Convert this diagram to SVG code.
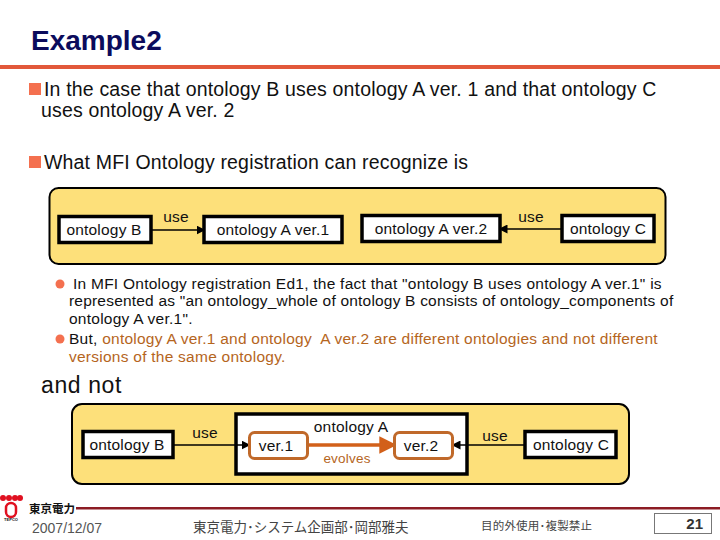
<svg xmlns="http://www.w3.org/2000/svg" width="720" height="540" viewBox="0 0 720 540">
<style>
text{font-family:"Liberation Sans",Arial,sans-serif;fill:#111;white-space:pre}
.b{font-size:19.5px;letter-spacing:.17px}
.s{font-size:15.5px;letter-spacing:.25px}
.n{font-size:15.5px;letter-spacing:.2px;text-anchor:middle}
.o{fill:#b5651d}
.panel{fill:#fde07a;stroke:#000;stroke-width:2}
.box{fill:#fff;stroke:#000;stroke-width:3.5}
.ver{fill:#fff;stroke:#c0692a;stroke-width:3}
.con{fill:none;stroke:#000;stroke-width:1.5}
.cj{font-family:"Noto Sans CJK JP","Liberation Sans",sans-serif;fill:#444}
</style>
<defs>
<marker id="a" markerWidth="6" markerHeight="6" refX="5" refY="3" orient="auto"><path d="M0 0L6 3L0 6z" fill="#000"/></marker>
<marker id="e" markerWidth="5" markerHeight="5" refX="4.2" refY="2.5" orient="auto"><path d="M0 0L5 2.5L0 5z" fill="#d2601a"/></marker>
</defs>
<text x="31" y="50" style="font-size:28px;font-weight:700;fill:#0b0b5c">Example2</text>
<rect x="0" y="65" width="720" height="4" fill="#e2583a"/>
<rect x="29" y="83" width="12" height="12" fill="#f4704f"/>
<text class="b" x="44" y="96">In the case that ontology B uses ontology A ver. 1 and that ontology C</text>
<text class="b" x="41" y="117">uses ontology A ver. 2</text>
<rect x="29" y="156" width="12" height="12" fill="#f4704f"/>
<text class="b" x="44" y="169">What MFI Ontology registration can recognize is</text>

<rect class="panel" x="49.500" y="188" width="616" height="76" rx="9"/>
<g id="connectors-top">
<path class="con" d="M151 230H204" marker-end="url(#a)"/>
<path class="con" d="M562 229H500" marker-end="url(#a)"/>
</g>
<g id="top-b"><rect class="box" x="59" y="216.500" width="92" height="26"/><text class="n" x="104" y="235">ontology B</text></g>
<g id="top-a1"><rect class="box" x="204" y="216.500" width="138" height="26"/><text class="n" x="273" y="235">ontology A ver.1</text></g>
<g id="top-a2"><rect class="box" x="362" y="215.500" width="138" height="26"/><text class="n" x="431" y="234">ontology A ver.2</text></g>
<g id="top-c"><rect class="box" x="562" y="215.500" width="92" height="26"/><text class="n" x="608" y="234">ontology C</text></g>
<text class="n" x="176" y="222">use</text>
<text class="n" x="531" y="222">use</text>

<circle cx="60" cy="284" r="4.500" fill="#f4704f"/>
<text class="s" x="73" y="289">In MFI Ontology registration Ed1, the fact that "ontology B uses ontology A ver.1" is</text>
<text class="s" x="69" y="306" style="letter-spacing:.2px">represented as "an ontology_whole of ontology B consists of ontology_components of</text>
<text class="s" x="69" y="324">ontology A ver.1".</text>
<circle cx="60" cy="339" r="4.500" fill="#f4704f"/>
<text class="s" x="69" y="344">But, <tspan class="o">ontology A ver.1 and ontology  A ver.2 are different ontologies and not different</tspan></text>
<text class="s o" x="69" y="362">versions of the same ontology.</text>
<text x="41" y="393" style="font-size:23px;letter-spacing:.6px">and not</text>

<rect class="panel" x="72" y="404" width="557" height="80" rx="10"/>
<rect class="box" x="236" y="414" width="231" height="60" fill="#fff"/>
<g id="connectors-bottom">
<path class="con" d="M173 445H249" marker-end="url(#a)"/>
<path class="con" d="M524 445H453" marker-end="url(#a)"/>
<path d="M308 445H394" fill="none" stroke="#d2601a" stroke-width="3.5" marker-end="url(#e)"/>
</g>
<g id="bot-b"><rect class="box" x="83" y="431.500" width="90" height="26"/><text class="n" x="127" y="450">ontology B</text></g>
<g id="bot-v1"><rect class="ver" x="249.500" y="432.500" width="58" height="26" rx="5"/><text class="n" x="276" y="451">ver.1</text></g>
<g id="bot-v2"><rect class="ver" x="394.500" y="432.500" width="58" height="26" rx="5"/><text class="n" x="421" y="451">ver.2</text></g>
<g id="bot-c"><rect class="box" x="525" y="431.500" width="91" height="26"/><text class="n" x="571" y="450">ontology C</text></g>
<text class="n" x="351" y="432">ontology A</text>
<text class="n o" x="347" y="463" style="font-size:13.500px">evolves</text>
<text class="n" x="205" y="438">use</text>
<text class="n" x="495" y="441">use</text>

<g id="footer">
<rect x="76" y="507" width="644" height="2.500" fill="#8c1c24"/>
<circle cx="3" cy="498" r="3" fill="#e01020"/><circle cx="9" cy="498" r="3" fill="#e01020"/><circle cx="15" cy="498" r="3" fill="#e01020"/><circle cx="20" cy="498" r="3" fill="#e01020"/>
<rect x="6" y="503" width="10" height="14" rx="5" fill="#fff" stroke="#e01020" stroke-width="2.500"/>
<text x="11" y="521" text-anchor="middle" style="font-size:4px;font-weight:700">TEPCO</text>
<text x="29" y="513" style="font-family:'Noto Sans CJK JP',sans-serif;font-size:11.500px;font-weight:700">東京電力</text>
<text x="32" y="533" style="font-size:14px;fill:#555">2007/12/07</text>
<text class="cj" x="193" y="532" style="font-size:13.500px">東京電力･システム企画部･岡部雅夫</text>
<text class="cj" x="481" y="530" style="font-size:11.500px;letter-spacing:.2px">目的外使用･複製禁止</text>
<rect x="654.500" y="513.500" width="57" height="20" fill="#fff" stroke="#777"/>
<text x="703" y="529" text-anchor="end" style="font-size:15px;font-weight:700;fill:#333">21</text>
</g>
</svg>
